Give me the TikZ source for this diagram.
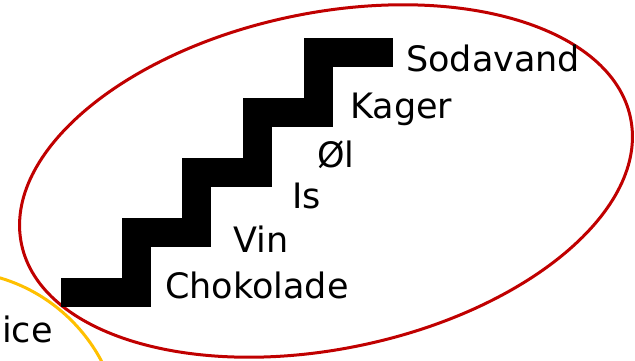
\documentclass[tikz,border=0pt]{standalone}
\usepackage{fontspec}
\setmainfont{DejaVu Sans}
\usepackage{tikz}
\definecolor{ringred}{RGB}{192,0,0}
\definecolor{ringyellow}{RGB}{255,192,0}

\begin{document}
\begin{tikzpicture}[x=1pt, y=-1pt,
        item/.style={anchor=base west, inner sep=0pt, font=\fontsize{35}{42}\selectfont},
        ring/.style={line width=3pt}]
    \clip (0,0) rectangle (635,361);
    \draw[ring, ringyellow] (-48,440) circle [radius=169pt];
    \draw[ring, ringred, rotate around={11.7:(326,181)}] (326,181) ellipse [x radius=311pt, y radius=168pt];
    % the stairs
    \draw[line width=29pt] (61,292.5) -- (136,292.5)
        \foreach \i in {1,...,3} { |- ++(60.8,-59.9) } |- (393,53);
    \foreach \name/\txt/\x/\y in {juice/ice/2/342, choc/Chokolade/165/298, vin/Vin/233/252,
            is/Is/292/208, ol/Øl/317/167, kager/Kager/350/118, soda/Sodavand/406/72} {
        \node[item] (\name) at (\x,\y) {\txt};
    };
\end{tikzpicture}
\end{document}
